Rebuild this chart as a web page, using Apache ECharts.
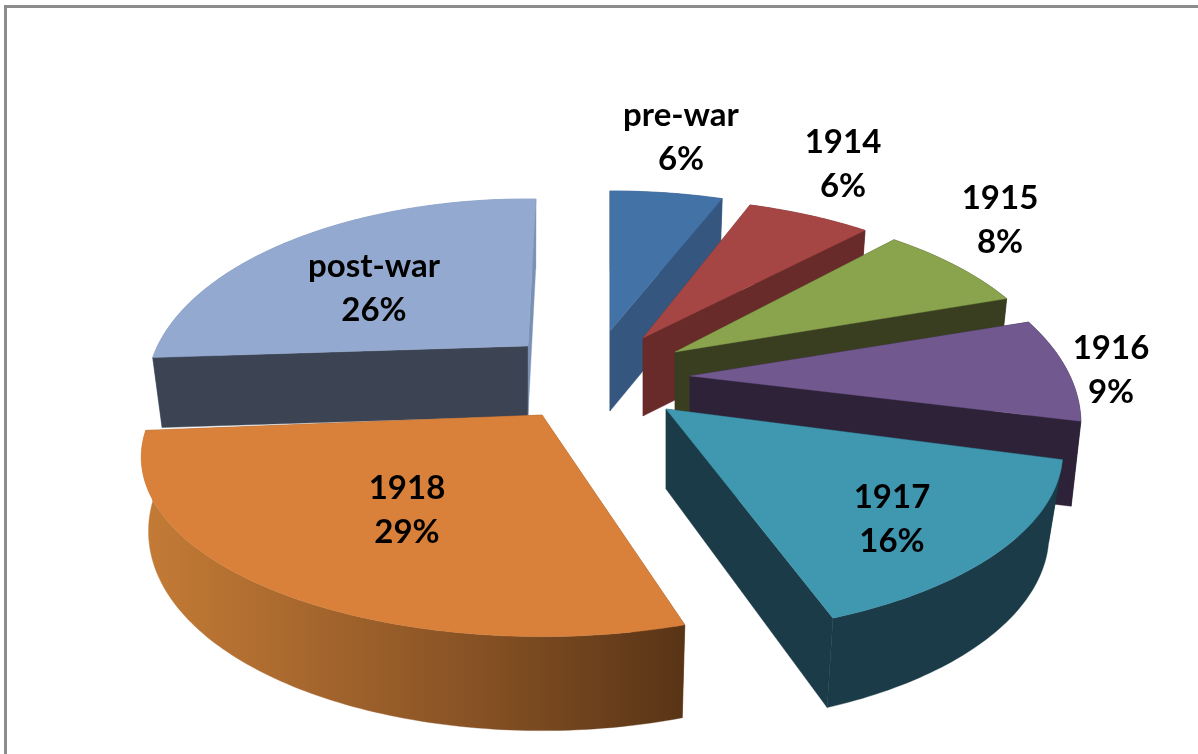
<!DOCTYPE html>
<html><head><meta charset="utf-8">
<style>html,body{margin:0;padding:0;background:#fff}#c{width:1198px;height:754px}</style>
<script src="https://cdn.jsdelivr.net/npm/echarts@6/dist/echarts.min.js"></script>
</head><body><div id="c"></div>
<script>
// DATA
const categories = ['pre-war','1914','1915','1916','1917','1918','post-war'];
const percents = [6,6,8,9,16,29,26];

// STYLE
const topColors  = ['#4372a6','#a64644','#8aa44e','#71588f','#4097b0','#d9803a','#93a9cf'];
const wallColors = ['#34567f','#692a2a','#383e1f','#2d2238','#1a3b47','#8a5326','#3c4353'];
const endWallColors = ['#34567f','#692a2a','#383e1f','#2d2238','#1a3b47','#8a5326','#7a90b5'];

// LAYOUT of the exploded, tilted pie
const view = {rx:380, ry:173, persp:0.235};
const bottomFit = [0.975,0.975,0.975,0.975,0.965,0.982,0.975];
const apexes = [[610,331],[643,338],[675,352],[690,376],[666,409],[542,415],[528,346]];
const depths = [[80,0],[78,0],[78,0],[85,0],[80,10],[68,26],[70,0]];
const rxFit = [1,1,0.99,1,1.015,1.025,0.975];
const ryFit = [1,1,1.04,1.11,1,0.98,1.05];
const angleFit = [[0,-0.5],[-1.5,0],[-0.2,-0.6],[0.5,-1.5],[1.5,-1.7],[1.5,-1.5],[0,1.5]]; // degrees
const labelPos = [[681,115],[843,142],[1000,198],[1111,348],[892,497],[407,488],[374,266]];
const drawRank = [1,2,3,4,5,6,0];
const outerBehindWalls = 6; // post-war: its radial walls sit in front of its rim
const labelFont = {size:33, lineGap:44};

function project(i, theta){
  const u=Math.sin(theta), v=Math.cos(theta), s=1/(1+view.persp*v);
  const [cx,cy]=apexes[i];
  return {x:cx+view.rx*rxFit[i]*u*s, y:cy-view.ry*ryFit[i]*v*s, v};
}
function lower(i,p){
  const [cx]=apexes[i]; const [d,e]=depths[i];
  return [cx+(p.x-cx)*bottomFit[i], p.y+d-e*p.v];
}
function renderItem(params, api){
  const i=params.dataIndex;
  let before=0; for(let k=0;k<i;k++) before+=percents[k];
  const rad=Math.PI/180;
  const a0=before/100*2*Math.PI+angleFit[i][0]*rad, a1=(before+api.value(0))/100*2*Math.PI+angleFit[i][1]*rad;
  const n=Math.max(8,Math.round((a1-a0)*60));
  const arc=[]; for(let k=0;k<=n;k++) arc.push(project(i,a0+(a1-a0)*k/n));
  const apex=apexes[i], apexLow=[apex[0],apex[1]+depths[i][0]];
  const z=drawRank[i]*10+1;
  const arcLow=arc.map(p=>lower(i,p));
  const outerFill = i===5 ? {type:'linear',x:0,y:0,x2:1,y2:0,colorStops:[
      {offset:0,color:'#c47b37'},{offset:0.1,color:'#bb7533'},{offset:0.35,color:'#a2642c'},
      {offset:0.65,color:'#834f23'},{offset:1,color:'#583416'}]} : endWallColors[i];
  const poly=(pts,fill,zz)=>({type:'polygon',shape:{points:pts},style:{fill:fill,stroke:fill,lineWidth:0.4},z2:zz});
  const children=[
    poly([apex,[arc[0].x,arc[0].y],arcLow[0],apexLow],wallColors[i],z),
    poly([apex,[arc[n].x,arc[n].y],arcLow[n],apexLow],endWallColors[i],z),
    poly(arc.map(p=>[p.x,p.y]).concat(arcLow.slice().reverse()),outerFill,i===outerBehindWalls?z-1:z+1),
    poly([apex].concat(arc.map(p=>[p.x,p.y])),topColors[i],z+2)
  ];
  const lp=labelPos[i];
  [categories[i],api.value(0)+'%'].forEach((t,k)=>{
    children.push({type:'text',z2:200,style:{text:t,x:lp[0],y:lp[1]+k*labelFont.lineGap,
      textAlign:'center',textVerticalAlign:'middle',fill:'#000',
      fontFamily:'Lato',fontWeight:'bold',fontSize:labelFont.size}});
  });
  return {type:'group',children};
}
const chart=echarts.init(document.getElementById('c'),null,{renderer:'canvas'});
chart.setOption({
  animation:false,
  backgroundColor:'#fff',
  graphic:[
    {type:'rect',shape:{x:4,y:5,width:1194,height:3},style:{fill:'#8c8c8c'},silent:true},
    {type:'rect',shape:{x:4,y:5,width:3,height:749},style:{fill:'#8c8c8c'},silent:true}
  ],
  series:[{type:'custom',coordinateSystem:'none',renderItem,
    data:percents.map((p,i)=>({name:categories[i],value:[p]}))}]
});
</script></body></html>
